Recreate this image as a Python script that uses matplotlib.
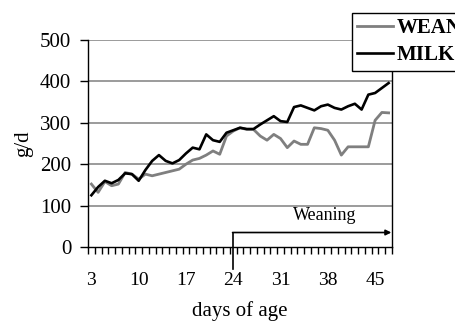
import numpy as np
import matplotlib
matplotlib.use('Agg')
import matplotlib.pyplot as plt

plt.rcParams['font.family'] = ['Liberation Serif', 'DejaVu Serif']

# daily gain (g/d), days 3..47
days = np.arange(3, 48)
wean = [152, 132, 158, 148, 152, 180, 176, 164, 176, 172,
        176, 180, 184, 188, 200, 210, 214, 222, 232, 224,
        268, 280, 288, 284, 284, 268, 258, 272, 262, 240,
        256, 248, 248, 288, 286, 282, 258, 222, 242, 242,
        242, 242, 306, 325, 324]
milk = [125, 145, 160, 154, 162, 178, 176, 160, 186, 208,
        222, 208, 202, 210, 226, 240, 236, 272, 258, 254,
        276, 282, 288, 285, 285, 296, 306, 316, 304, 302,
        338, 342, 336, 330, 340, 344, 336, 332, 340, 346,
        332, 368, 372, 384, 396]
tick_days = [3, 10, 17, 24, 31, 38, 45]
weaning_day = 24

fig = plt.figure(figsize=(4.56, 3.30), dpi=100)
ax = fig.add_axes([88/456, 1 - 247/330, (392 - 88)/456, (247 - 40)/330])

ax.plot(days, wean, color='#7f7f7f', linewidth=2.0, label='WEAN', zorder=3)
ax.plot(days, milk, color='black', linewidth=1.9, label='MILK', zorder=4)

ax.set_xlim(2.5, 47.5)
ax.set_ylim(0, 500)
ax.set_yticks(range(0, 501, 100))
ax.set_xticks(tick_days)
ax.set_xticks(np.arange(2.5, 48, 1), minor=True)
ax.tick_params(axis='y', labelsize=15, length=6, width=1, pad=6, direction='out')
ax.tick_params(axis='x', which='major', labelsize=14, length=0, pad=18)
ax.tick_params(axis='x', which='minor', length=5, width=1, direction='out')

for y in range(100, 501, 100):
    ax.axhline(y, color='#808080', linewidth=1.1, zorder=1)
ax.spines['top'].set_visible(False)
for s in ['left', 'bottom', 'right']:
    ax.spines[s].set_color('black')
    ax.spines[s].set_linewidth(1)

ax.set_ylabel('g/d', fontsize=15, labelpad=5)
ax.set_xlabel('days of age', fontsize=15, labelpad=9)

# weaning marker
ax.plot([weaning_day, weaning_day], [35, -52], color='black', linewidth=1.2,
        clip_on=False, zorder=5)
ax.annotate('', xy=(47.4, 35), xytext=(weaning_day - 0.1, 35),
            arrowprops=dict(arrowstyle='-|>', color='black', lw=1.2,
                            mutation_scale=8, shrinkA=0, shrinkB=0))
ax.text(37.6, 55, 'Weaning', fontsize=13, ha='center', va='bottom')

leg = fig.legend(loc='upper left', bbox_to_anchor=(352/456, 1 - 13/330),
                 bbox_transform=fig.transFigure, borderaxespad=0,
                 fancybox=False, framealpha=1, edgecolor='black',
                 prop={'size': 15, 'weight': 'bold'},
                 handlelength=1.7, handletextpad=0.2, labelspacing=0.35,
                 borderpad=0.25)
leg.get_frame().set_linewidth(1)
leg.set_zorder(10)

fig.savefig('out.png', dpi=100)
